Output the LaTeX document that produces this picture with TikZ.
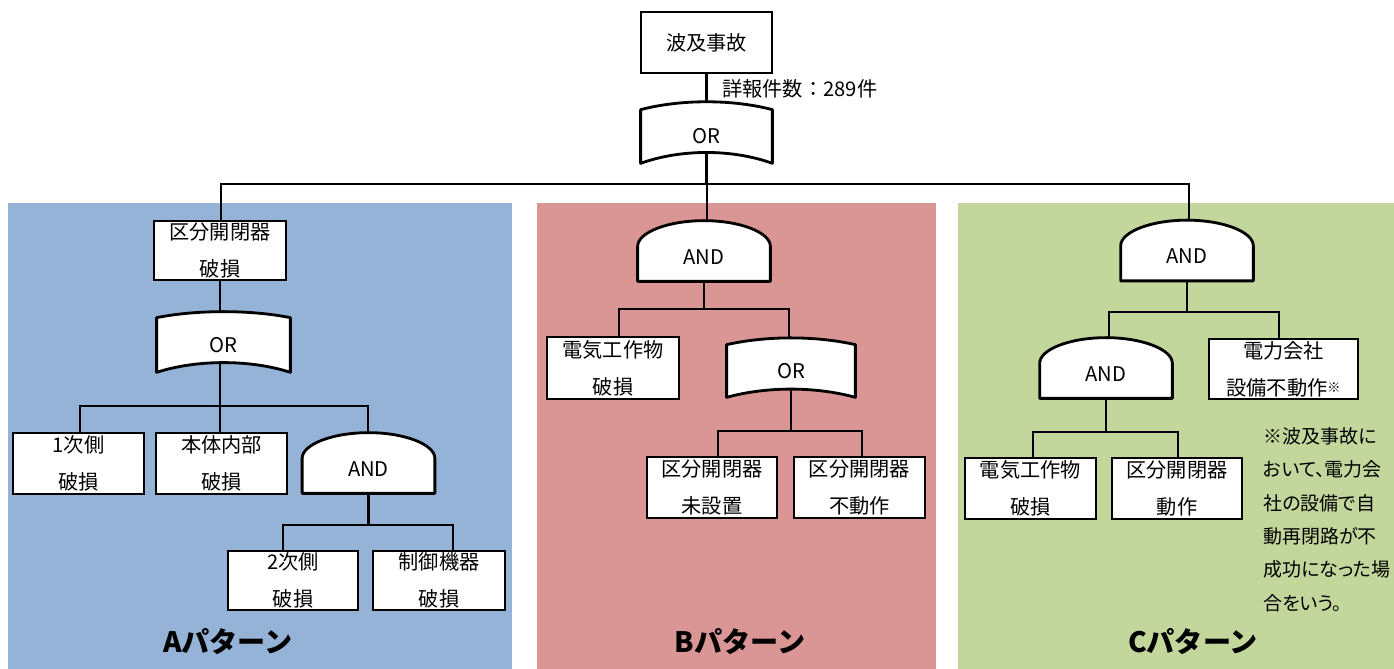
\documentclass[tikz,border=0pt]{standalone}
\usepackage{fontspec}
\setmainfont{Noto Sans CJK JP}
\newfontfamily\notefont[RawFeature=+palt]{Noto Sans CJK JP}
\usetikzlibrary{calc}
\pgfdeclarelayer{background}
\pgfsetlayers{background,main}
\definecolor{panelA}{HTML}{95B3D7}
\definecolor{panelB}{HTML}{D99694}
\definecolor{panelC}{HTML}{C3D69B}
\newcommand*\PX{0.02cm}
\tikzset{
  base/.style={font=\fontsize{11.5}{21}\selectfont, inner sep=0pt, align=center},
  ebox/.style={base, draw, fill=white, line width=1.6pt},
  ornode/.style={base, minimum width=131*\PX},
  andnode/.style={base, text height=15.2pt, text depth=0pt, minimum width=132*\PX, minimum height=60*\PX},
  gate/.style={draw, fill=white, line width=1.6pt, line join=round},
  conn/.style={line width=1.6pt, line cap=rect},
  patlabel/.style={font=\fontsize{16}{16}\selectfont\bfseries, inner sep=0pt},
}
\begin{document}
\begin{tikzpicture}[x=0.02cm, y=-0.02cm]
\useasboundingbox (0,0) rectangle (1394,669);
% panels
\begin{pgfonlayer}{background}
  \fill[panelA] (8,203) rectangle (512,669);
  \fill[panelB] (537,203) rectangle (936,669);
  \fill[panelC] (958,203) rectangle (1394,669);
\end{pgfonlayer}

% top
\node[ebox, minimum width=131*\PX, minimum height=61*\PX] (top) at (706.5,42.5) {波及事故};
\node[base, anchor=west] (count) at (722,89) {詳報件数：289件};
\node[ornode, minimum height=53*\PX] (orTop) at (706.5,136.5) {OR};

% pattern A
\node[ebox, minimum width=132*\PX, minimum height=59*\PX] (a1) at (220,250.5) {区分開閉器\\破損};
\node[ornode, minimum width=133*\PX, minimum height=54*\PX] (orA) at (223.5,345) {OR};
\node[ebox, minimum width=131*\PX, minimum height=61*\PX] (a2) at (78.5,463.5) {1次側\\破損};
\node[ebox, minimum width=131*\PX, minimum height=61*\PX] (a3) at (221.5,463.5) {本体内部\\破損};
\node[andnode] (andA) at (368.5,463) {AND};
\node[ebox, minimum width=130*\PX, minimum height=59*\PX] (a4) at (293,580.5) {2次側\\破損};
\node[ebox, minimum width=132*\PX, minimum height=59*\PX] (a5) at (439,580.5) {制御機器\\破損};
\node[patlabel] (labA) at (228,642) {Aパターン};

% pattern B
\node[andnode] (andB) at (704,251) {AND};
\node[ebox, minimum width=132*\PX, minimum height=62*\PX] (b1) at (613,368) {電気工作物\\破損};
\node[ornode, minimum width=128*\PX, minimum height=52*\PX] (orB) at (791,371) {OR};
\node[ebox, minimum width=130*\PX, minimum height=61*\PX] (b2) at (712,487.5) {区分開閉器\\未設置};
\node[ebox, minimum width=131*\PX, minimum height=61*\PX] (b3) at (859.5,487.5) {区分開閉器\\不動作};
\node[patlabel] (labB) at (740,642) {Bパターン};

% pattern C
\node[andnode] (andC) at (1187,250.5) {AND};
\node[andnode] (andC2) at (1106,368) {AND};
\node[ebox, minimum width=149*\PX, minimum height=60*\PX] (c1) at (1283.5,369) {電力会社\\設備不動作\raisebox{1.5pt}{\fontsize{7.5}{7.5}\selectfont ※}};
\node[ebox, minimum width=131*\PX, minimum height=61*\PX] (c2) at (1030.5,488.5) {電気工作物\\破損};
\node[ebox, minimum width=130*\PX, minimum height=61*\PX] (c3) at (1177,488.5) {区分開閉器\\動作};
\node[base, anchor=north west, align=left, font=\notefont\fontsize{10.8}{19}\selectfont] (note) at (1263,427)
  {※波及事故に\\おいて、電力会\\社の設備で自\\動再閉路が不\\成功になった場\\合をいう。};
\node[patlabel] (labC) at (1193,642) {Cパターン};

% bus coordinates
\coordinate (mL) at (221,184);
\coordinate (mM) at (707,184);
\coordinate (mR) at (1189,184);
\coordinate (aL) at (80,406);
\coordinate (aR) at (368,406);
\coordinate (aL2) at (283,525);
\coordinate (aR2) at (453,525);
\coordinate (bL) at (619,309);
\coordinate (bR) at (789,309);
\coordinate (bL2) at (718,431);
\coordinate (bR2) at (862,431);
\coordinate (cL) at (1109,312);
\coordinate (cR) at (1279,312);
\coordinate (cL2) at (1033,432);
\coordinate (cR2) at (1178,432);

\begin{pgfonlayer}{background}
  % connectors
  \draw[conn] (top.center) -- (orTop.center) -- (orTop.center |- mL);
  \draw[conn] (mL) -- (mR);
  \draw[conn] (mL) -- (mL |- a1.north);
  \draw[conn] (mM) -- (mM |- andB.center);
  \draw[conn] (mR) -- (mR |- andC.center);
  % A
  \draw[conn] (a1.south) -- (a1.south |- aL);
  \draw[conn] (aL) -- (aR);
  \draw[conn] (aL) -- (aL |- a2.north);
  \draw[conn] (a1.south |- aL) -- (a1.south |- a3.north);
  \draw[conn] (aR) -- (aR |- andA.center);
  \draw[conn] (andA.center) -- (andA.center |- aL2);
  \draw[conn] (aL2) -- (aR2);
  \draw[conn] (aL2) -- (aL2 |- a4.north);
  \draw[conn] (aR2) -- (aR2 |- a5.north);
  % B
  \draw[conn] (andB.center) -- (andB.center |- bL);
  \draw[conn] (bL) -- (bR);
  \draw[conn] (bL) -- (bL |- b1.north);
  \draw[conn] (bR) -- (bR |- orB.center);
  \draw[conn] (orB.center) -- (orB.center |- bL2);
  \draw[conn] (bL2) -- (bR2);
  \draw[conn] (bL2) -- (bL2 |- b2.north);
  \draw[conn] (bR2) -- (bR2 |- b3.north);
  % C
  \draw[conn] (andC.center) -- (andC.center |- cL);
  \draw[conn] (cL) -- (cR);
  \draw[conn] (cL) -- (cL |- andC2.center);
  \draw[conn] (cR) -- (cR |- c1.north);
  \draw[conn] (andC2.center) -- (andC2.center |- cL2);
  \draw[conn] (cL2) -- (cR2);
  \draw[conn] (cL2) -- (cL2 |- c2.north);
  \draw[conn] (cR2) -- (cR2 |- c3.north);

  % OR gate shapes
  \foreach \g/\bt/\bb in {orTop/10.5/14.5, orA/8/13, orB/9/11}{
    \filldraw[gate] (\g.south west) -- (\g.north west)
      .. controls +(40,-\bt) and +(-40,-\bt) .. (\g.north east)
      -- (\g.south east)
      .. controls +(-40,-\bb) and +(40,-\bb) .. (\g.south west) -- cycle;
  }
  % AND gate shapes
  \foreach \g in {andA,andB,andC,andC2}{
    \filldraw[gate] (\g.south west) -- ($(\g.south west)+(0,-35)$)
      .. controls +(0,-14) and +(-36,0) .. (\g.north)
      .. controls +(36,0) and +(0,-14) .. ($(\g.south east)+(0,-35)$)
      -- (\g.south east) -- cycle;
  }
\end{pgfonlayer}
\end{tikzpicture}
\end{document}
